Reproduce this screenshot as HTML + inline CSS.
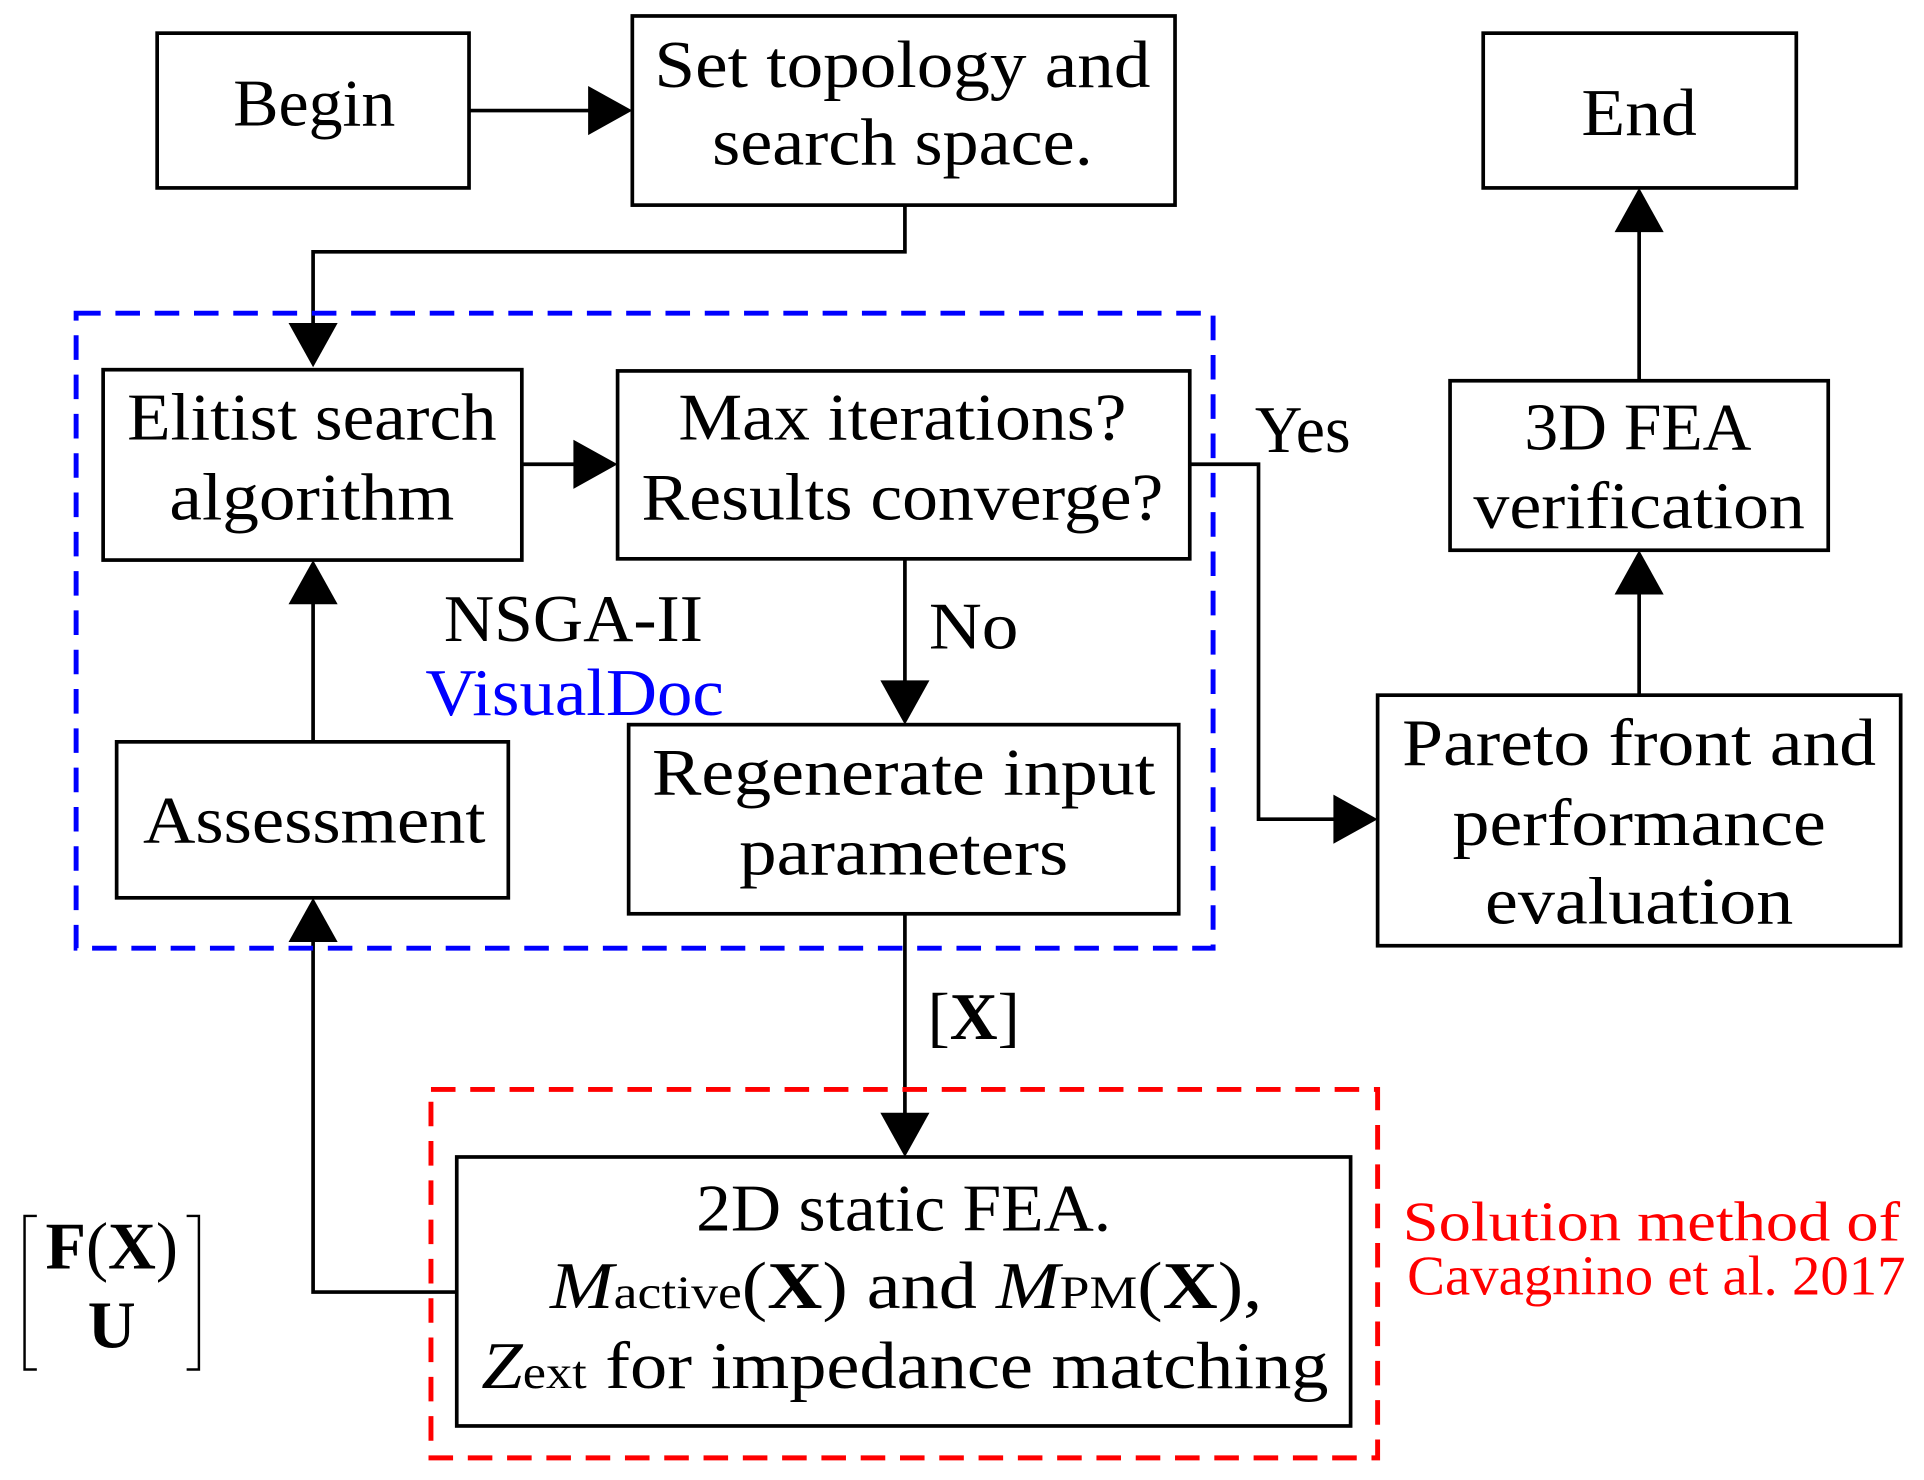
<!DOCTYPE html>
<html><head><meta charset="utf-8"><style>
html,body{margin:0;padding:0;background:#fff;}
svg{display:block;}
text{font-family:"Liberation Serif",serif;fill:#000;text-anchor:middle;}
</style></head><body>
<svg width="1924" height="1480" viewBox="0 0 1567 1205" preserveAspectRatio="none" xmlns="http://www.w3.org/2000/svg">
<g fill="none" stroke="#000" stroke-width="3">
<rect x="128" y="27" width="254" height="126"/>
<rect x="515" y="13" width="442" height="154"/>
<rect x="84" y="301" width="341" height="155"/>
<rect x="503" y="302" width="466" height="153"/>
<rect x="95" y="604" width="319" height="127"/>
<rect x="512" y="590" width="448" height="154"/>
<rect x="372" y="942" width="728" height="219"/>
<rect x="1208" y="27" width="255" height="126"/>
<rect x="1181" y="310" width="308" height="138"/>
<rect x="1122" y="566" width="426" height="204"/>
<polyline points="382,90 482,90"/>
<polyline points="737,167 737,205 255,205 255,264"/>
<polyline points="425,378 468,378"/>
<polyline points="969,378 1025,378 1025,667 1088,667"/>
<polyline points="737,455 737,556"/>
<polyline points="255,604 255,490"/>
<polyline points="737,744 737,908"/>
<polyline points="372,1052 255,1052 255,765"/>
<polyline points="1335,566 1335,482"/>
<polyline points="1335,310 1335,187"/>
<path d="M30,990 H20 V1115 H30 M152,990 H162 V1115 H152" stroke-width="2"/>
</g>
<g fill="#000">
<polygon points="515,90 479,70 479,110"/>
<polygon points="255,299 235,263 275,263"/>
<polygon points="503,378 467,358 467,398"/>
<polygon points="1122,667 1086,647 1086,687"/>
<polygon points="737,590 717,554 757,554"/>
<polygon points="255,456 235,492 275,492"/>
<polygon points="737,942 717,906 757,906"/>
<polygon points="255,731 235,767 275,767"/>
<polygon points="1335,448 1315,484 1355,484"/>
<polygon points="1335,153 1315,189 1355,189"/>
</g>
<rect x="62" y="255" width="926" height="517" fill="none" stroke="#0000ff" stroke-width="4" stroke-dasharray="20,12"/>
<rect x="351" y="887" width="771" height="300" fill="none" stroke="#ff0000" stroke-width="4" stroke-dasharray="20,12"/>
<g font-size="54" lengthAdjust="spacingAndGlyphs">
<text x="256" y="102" textLength="132" lengthAdjust="spacingAndGlyphs">Begin</text>
<text x="735" y="71" textLength="404" lengthAdjust="spacingAndGlyphs">Set topology and</text>
<text x="735" y="134" textLength="310" lengthAdjust="spacingAndGlyphs">search space.</text>
<text x="254" y="358" textLength="301" lengthAdjust="spacingAndGlyphs">Elitist search</text>
<text x="254" y="423" textLength="232" lengthAdjust="spacingAndGlyphs">algorithm</text>
<text x="735" y="358" textLength="365" lengthAdjust="spacingAndGlyphs">Max iterations?</text>
<text x="735" y="423" textLength="425" lengthAdjust="spacingAndGlyphs">Results converge?</text>
<text x="256" y="686" textLength="279" lengthAdjust="spacingAndGlyphs">Assessment</text>
<text x="736" y="647" textLength="410" lengthAdjust="spacingAndGlyphs">Regenerate input</text>
<text x="736" y="712" textLength="268" lengthAdjust="spacingAndGlyphs">parameters</text>
<text x="1335" y="110" textLength="94" lengthAdjust="spacingAndGlyphs">End</text>
<text x="1334" y="366" textLength="185" lengthAdjust="spacingAndGlyphs">3D FEA</text>
<text x="1335" y="430" textLength="270" lengthAdjust="spacingAndGlyphs">verification</text>
<text x="1335" y="623" textLength="386" lengthAdjust="spacingAndGlyphs">Pareto front and</text>
<text x="1335" y="688" textLength="304" lengthAdjust="spacingAndGlyphs">performance</text>
<text x="1335" y="752" textLength="251" lengthAdjust="spacingAndGlyphs">evaluation</text>
<text x="1061" y="368" textLength="78" lengthAdjust="spacingAndGlyphs">Yes</text>
<text x="793" y="528" textLength="73" lengthAdjust="spacingAndGlyphs">No</text>
<text x="467" y="522" textLength="211" lengthAdjust="spacingAndGlyphs">NSGA-II</text>
<text x="468" y="582" style="fill:#0000ff" textLength="243" lengthAdjust="spacingAndGlyphs">VisualDoc</text>
<text x="793" y="846">[<tspan font-weight="bold">X</tspan>]</text>
<text x="736" y="1002" textLength="338" lengthAdjust="spacingAndGlyphs">2D static FEA.</text>
<text x="738" y="1065" textLength="580" lengthAdjust="spacingAndGlyphs"><tspan font-style="italic">M</tspan><tspan font-size="38">active</tspan>(<tspan font-weight="bold">X</tspan>) and <tspan font-style="italic">M</tspan><tspan font-size="38">PM</tspan>(<tspan font-weight="bold">X</tspan>),</text>
<text x="737" y="1130" textLength="690" lengthAdjust="spacingAndGlyphs"><tspan font-style="italic">Z</tspan><tspan font-size="38">ext</tspan> for impedance matching</text>
<text x="91" y="1033"><tspan font-weight="bold">F</tspan>(<tspan font-weight="bold">X</tspan>)</text>
<text x="91" y="1097" font-weight="bold">U</text>
</g>
<g font-size="46">
<text x="1345" y="1010" style="fill:#ff0000" textLength="405" lengthAdjust="spacingAndGlyphs">Solution method of</text>
<text x="1349" y="1054" style="fill:#ff0000" textLength="406" lengthAdjust="spacingAndGlyphs">Cavagnino et al. 2017</text>
</g>
</svg>
</body></html>
